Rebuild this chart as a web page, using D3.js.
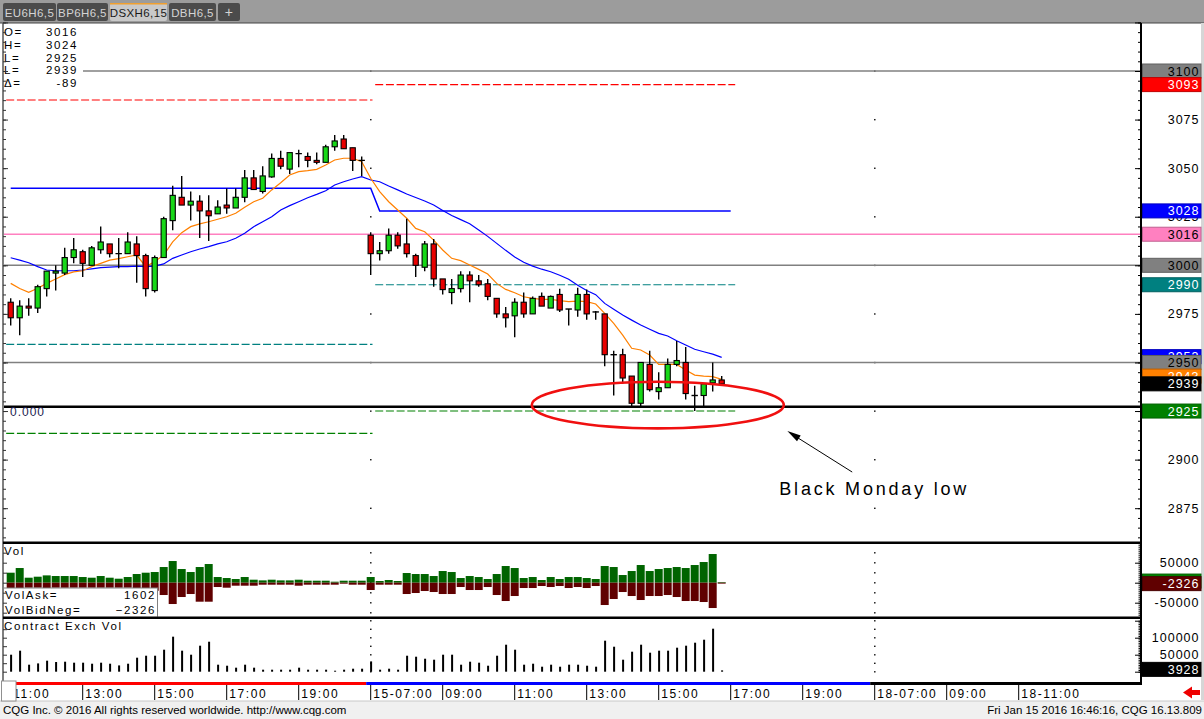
<!DOCTYPE html>
<html>
<head>
<meta charset="utf-8">
<script src="https://cdn.jsdelivr.net/npm/d3@7"></script>
<style>
  body { margin: 0; background: #fff; }
  svg { display: block; font-family: "Liberation Sans", Arial, sans-serif; }
</style>
</head>
<body>
<svg id="chart" width="1204" height="719"></svg>
<script>
// ---- data (bar index = 15 min slot, 0 = 14th 11:00, 40 = 15th 07:00) ----
const opens = [2981,2973,2979,2978,2988,2996,2996,3004,3007,3000,3008,3011,3006,3006,3011,3005,2987,3004,3023,3035,
  3031,3033,3028,3026.5,3031,3029.5,3035,3045,3038,3045.5,3055,3049.5,3057.5,3056,3054,3053,3061,3065,3060.5,3054,
  3015.5,3006,3007.5,3015.5,3011,3005,2999,3011,2993,2986,2988,2995,2992,2990.5,2983,2975,2974,2981,2975,2984,
  2978,2985,2977.5,2977,2985,2976,2975,2954,2954,2943,2929,2949,2935,2937,2949,2950,2933,2933,2939.5,2941];
const highs = [2983,2982,2983,2990,2997,3000,3009,3014,3008,3010,3020,3011,3014,3017,3015,3006,3005,3025,3041,3046,
  3038,3036,3036,3033.5,3039.5,3039.5,3049,3049,3051,3057.5,3059,3058,3059.5,3058,3058,3062,3067,3067,3060.5,3056,
  3017,3012,3019,3017,3024,3006,3012.5,3013.5,2993,2993,2997,2997,2995,2993,2983,2978.5,2983,2986,2984,2986,
  2984.5,2988,2977.5,2988.5,2987.5,2976.5,2975,2956,2957,2943,2950,2956,2945,2952,2961,2958,2938,2939,2950,2943];
const lows = [2969,2964,2974,2975.5,2984,2987,2995,3001,2994,3000,3006,3004,2998.5,3006,2991,2984,2986,3004,3018,3031,
  3023,3014,3012.5,3026.5,3026.5,3029.5,3032.5,3039,3037,3045,3049.5,3047,3050.5,3050.5,3052,3053,3059,3060,3048.5,3046,
  2995,3002.5,3006,3008.5,3004,2994,2997,2989,2985,2980,2986,2981,2989,2982,2973,2968,2963,2973,2975,2979,
  2978,2976,2969,2973.5,2972,2972,2948,2933,2939,2927.5,2927.5,2935,2931,2937,2948,2931,2925,2927.5,2935,2939];
const closes = [2973,2979,2978,2989,2997,2997,3004,3008,3001,3009,3012,3006,3006,3012,3005,2988,3004,3024,3036,3031,
  3033,3028,3025.5,3030,3029.5,3035,3045,3039,3046,3055,3051,3058,3057.5,3054,3053,3061,3064,3060,3054,3054,
  3006,3007.5,3015.5,3010,3006,3000,3011,2993,2987.5,2988,2995,2992,2990,2984,2975,2973,2981,2975,2983,2979,
  2984,2977,2977.5,2985,2975,2976,2954,2954,2942,2929,2950,2936,2937,2949,2951,2934,2933,2939,2941,2939];

const fastAvg = [2990.7,2988.1,2986.1,2988.2,2990.7,2993.0,2995.2,2996.6,2997.2,2999.3,3001.0,3002.7,3003.4,3004.4,3005.3,2999.3,3001.9,3005.3,3012.1,3016.8,
  3019.9,3021.3,3022.4,3023.7,3025.0,3026.8,3029.9,3032.7,3034.5,3038.8,3042.5,3046.5,3048.2,3048.7,3049.4,3051.6,3054.2,3055.1,3055.1,3053.3,
  3044.8,3037.9,3032.7,3028.5,3024.2,3019.0,3017.3,3013.0,3007.9,3003.6,3002.4,3000.2,2997.9,2995.5,2990.7,2987.6,2985.9,2983.8,2983.0,2982.5,
  2982.5,2981.8,2981.3,2981.6,2981.3,2980.1,2975.3,2970.1,2964.1,2957.3,2956.4,2953.8,2949.0,2949.0,2949.0,2946.1,2943.5,2943.0,2942.7,2941.3];
const slowAvg = [3003.9,3002.7,3001.3,2999.3,2997.6,2997.2,2997.2,2997.2,2997.6,2998.2,2998.8,2999.1,2999.3,2999.3,2999.6,2999.3,2999.6,3000.7,3003.6,3005.3,
  3007.0,3008.4,3009.6,3011.0,3012.1,3013.9,3016.5,3019.9,3022.4,3025.0,3028.5,3030.7,3032.7,3034.8,3036.5,3038.4,3041.3,3043.0,3044.4,3045.6,
  3043.9,3043.0,3040.8,3038.8,3036.7,3034.9,3033.1,3031.0,3028.2,3025.6,3023.5,3021.4,3018.2,3014.9,3011.3,3007.7,3004.3,3001.6,2999.6,2998.0,
  2996.7,2994.9,2992.8,2989.7,2987.0,2984.9,2980.4,2977.4,2974.4,2971.8,2969.3,2967.1,2965.0,2963.6,2961.2,2959.0,2956.8,2955.5,2954.3,2952.6];

const volAsk = [25000,36700,12500,15000,18300,16700,16700,16700,14200,12500,16700,12500,10000,14200,21700,25000,26700,39200,54200,34200,
  26700,39200,46700,14200,11700,9200,14200,7500,5800,7500,5800,5800,7500,5000,5000,5000,2500,5000,5000,5000,
  14200,4200,6700,4200,24200,21700,21700,16700,29200,26700,11700,16700,14200,9200,21700,41700,36700,11700,14200,6700,
  14200,9200,14200,14200,11700,9200,41700,39200,19200,29200,44200,29200,34200,36700,39200,36700,44200,51700,71700,1602];
const volBid = [25000,25100,12500,12500,14100,12500,12700,12500,12500,12500,12500,12500,12500,12500,19500,22000,20300,30800,53300,35800,
  28300,47500,47500,10800,12500,7500,7500,7500,5000,5000,5000,5000,7500,5000,5000,5000,5000,2500,5000,5000,
  18300,5000,5000,5000,28300,25800,20800,23300,28300,28300,10800,18300,18300,10800,30800,45800,33300,13300,13300,8300,
  10800,8300,13300,10800,13300,8300,55800,40800,23300,33300,43300,33300,33300,30800,35800,45800,45800,48300,63300,2326];
const exchVol = [50000,61800,20600,24400,32400,28500,29400,26500,26500,23500,26500,23500,18500,23500,41200,47000,47000,64700,103000,61800,
  50000,76500,88200,20600,17600,11800,20600,11800,5900,5900,5900,5900,11800,5900,5900,5900,2900,5900,8800,8800,
  30300,5900,8800,5900,47000,44100,38200,35300,50000,50000,20600,29400,26500,17600,47000,79400,64700,20600,23500,14700,
  20600,14700,20600,20600,17600,14700,91200,73500,35300,58800,79400,55900,61800,61800,70600,76500,85300,94100,126500,3928];

// session lines: day 1 and day 2
const sessionStart = [-0.5, 40.5];
const sessionEnd = [40.2, 80.5];
const sessionHigh = [3085.1, 3093];
const sessionMid = [2959.3, 2990];
const sessionLow = [2913.5, 2925];
const settleSlots = [0, 40, 41, 80];
const settleValues = [3039.7, 3039.7, 3028, 3028];
const separatorSlots = [40, 96];

const fullLines = [3100, 3016, 3000, 2950];
const zeroLine = 2927.2;

const flagValues = [3100, 3093, 3028, 3016, 3000, 2990, 2953, 2950, 2943, 2939, 2925];
const flagFill = ["#808080","#ff0000","#0000ff","#ff80c0","#808080","#008080","#0000ff","#808080","#ff8000","#000000","#008000"];
const flagInk = ["#000","#fff","#fff","#000","#000","#fff","#fff","#000","#fff","#fff","#fff"];
const priceLabels = [3075, 3050, 3025, 2975, 2900, 2875];

const headerKeys = ["O=", "H=", "L=", "L=", "\u0394="];
const headerVals = ["3016", "3024", "2925", "2939", "-89"];

const timeSlots = [0, 8, 16, 24, 32, 40, 48, 56, 64, 72, 80, 88, 96, 104, 112];
const timeLabels = ["11:00","13:00","15:00","17:00","19:00","15-07:00","09:00","11:00","13:00","15:00","17:00","19:00","18-07:00","09:00","18-11:00"];

const tabs = ["EU6H6,5", "BP6H6,5", "DSXH6,15", "DBH6,5", "+"];
const note = { slot: 71.9, price: 2928.1, rSlots: 14, rPrice: 12, fromSlot: 93.5, fromPrice: 2893.6,
               toSlot: 86.3, toPrice: 2914.7, textSlot: 85.4, textPrice: 2881.8, text: "Black Monday low" };

// ---- layout ----
const svg = d3.select("#chart");
const plotL = 3, plotR = 1141;
const mainTop = 23, mainBot = 542.7, volBot = 617.7, exchBot = 683;

const x = d3.scaleLinear().domain([0, 112]).range([10.7, 1018.7]);
const yP = d3.scaleLinear().domain([2875, 3100]).range([508.2, 71]);
const yV = d3.scaleLinear().domain([-50000, 50000]).range([602.7, 562.7]);
const yC = d3.scaleLinear().domain([0, 100000]).range([671.7, 637.7]);
const idx = d3.range(opens.length);

svg.append("rect").attr("width", 1204).attr("height", 719).attr("fill", "#fff");

// tab bar
svg.append("rect").attr("width", 1204).attr("height", mainTop).attr("fill", "#9c9c9c");
const tabX = [3, 57, 110, 169, 218], tabW = [53, 51, 57, 47, 22];
const tabG = svg.append("g");
tabs.forEach((t, i) => {
  const active = i === 2;
  tabG.append("rect").attr("x", tabX[i]).attr("y", 3).attr("width", tabW[i]).attr("height", 18)
    .attr("rx", 2).attr("fill", active ? "#c9c9c9" : "#4b4b4b");
  if (active) tabG.append("rect").attr("x", tabX[i]).attr("y", 3).attr("width", tabW[i]).attr("height", 1.5).attr("fill", "#f0a030");
  tabG.append("text").attr("x", tabX[i] + tabW[i] / 2).attr("y", 16.5).attr("text-anchor", "middle")
    .attr("font-size", i === 4 ? 14 : 11.5).style("letter-spacing", "0.4px")
    .attr("fill", active ? "#1a1a1a" : "#d4d4d4").text(t);
});
svg.append("line").attr("x1", 0).attr("x2", 1204).attr("y1", mainTop).attr("y2", mainTop).attr("stroke", "#444").attr("stroke-width", 1);

// right strip + footer
svg.append("rect").attr("x", 1201).attr("y", mainTop).attr("width", 3).attr("height", 700 - mainTop).attr("fill", "#d6d6d6");
svg.append("rect").attr("x", 0).attr("y", 701).attr("width", 1204).attr("height", 18).attr("fill", "#f0f0f0");
svg.append("line").attr("x1", 0).attr("x2", 1204).attr("y1", 701).attr("y2", 701).attr("stroke", "#c8c8c8");

// ---- main price panel ----
svg.append("clipPath").attr("id", "clipMain").append("rect")
  .attr("x", plotL + 1).attr("y", mainTop + 1).attr("width", plotR - plotL - 1).attr("height", mainBot - mainTop - 2);
const main = svg.append("g").attr("clip-path", "url(#clipMain)");

// separator dots on 25 pt levels
const priceLevels = d3.range(2850, 3126, 25);
separatorSlots.forEach(s => {
  main.selectAll(null).data(priceLevels).join("rect")
    .attr("x", x(s) - 0.6).attr("y", d => yP(d) - 0.6).attr("width", 1.4).attr("height", 1.4).attr("fill", "#000");
});

// full-width reference lines
main.selectAll(".ref").data(fullLines).join("line").attr("class", "ref")
  .attr("x1", plotL).attr("x2", plotR).attr("y1", d => yP(d)).attr("y2", d => yP(d))
  .attr("stroke", d => d === 3016 ? "#ff80c0" : "#808080").attr("stroke-width", 1.5);
main.append("line").attr("x1", plotL).attr("x2", plotR).attr("y1", yP(zeroLine)).attr("y2", yP(zeroLine))
  .attr("stroke", "#000").attr("stroke-width", 2.5);

// session dashed lines
[[sessionHigh, "#ff0000"], [sessionMid, "#008080"], [sessionLow, "#008000"]].forEach(([vals, col]) => {
  main.selectAll(null).data(vals).join("line")
    .attr("x1", (d, i) => x(sessionStart[i])).attr("x2", (d, i) => x(sessionEnd[i]))
    .attr("y1", d => yP(d)).attr("y2", d => yP(d))
    .attr("stroke", col).attr("stroke-width", 1.1).attr("stroke-dasharray", "8,2.7");
});

// settlement step line
main.append("path").datum(settleSlots.map((s, i) => [s, settleValues[i]]))
  .attr("d", d3.line().x(d => x(d[0])).y(d => yP(d[1])))
  .attr("fill", "none").attr("stroke", "#0000ff").attr("stroke-width", 1.5);

// moving averages
const avgLine = d3.line().x((d, i) => x(i)).y(d => yP(d));
main.append("path").datum(slowAvg).attr("d", avgLine).attr("fill", "none").attr("stroke", "#0000ff").attr("stroke-width", 1.2);
main.append("path").datum(fastAvg).attr("d", avgLine).attr("fill", "none").attr("stroke", "#ff8000").attr("stroke-width", 1.2);

// candles
const candles = main.append("g");
candles.selectAll(".wick").data(idx).join("line").attr("class", "wick")
  .attr("x1", i => x(i)).attr("x2", i => x(i)).attr("y1", i => yP(highs[i])).attr("y2", i => yP(lows[i]))
  .attr("stroke", "#000").attr("stroke-width", 1.4);
candles.selectAll(".body").data(idx.filter(i => opens[i] !== closes[i])).join("rect").attr("class", "body")
  .attr("x", i => x(i) - 2.6).attr("width", 5.2)
  .attr("y", i => yP(Math.max(opens[i], closes[i])))
  .attr("height", i => Math.max(1.5, yP(Math.min(opens[i], closes[i])) - yP(Math.max(opens[i], closes[i]))))
  .attr("fill", i => closes[i] > opens[i] ? "#18d818" : "#e80000")
  .attr("stroke", "#000").attr("stroke-width", 1.1);
candles.selectAll(".doji").data(idx.filter(i => opens[i] === closes[i])).join("line").attr("class", "doji")
  .attr("x1", i => x(i) - 3.2).attr("x2", i => x(i) + 3.2).attr("y1", i => yP(opens[i])).attr("y2", i => yP(opens[i]))
  .attr("stroke", "#000").attr("stroke-width", 1.4);

// annotation
main.append("ellipse").attr("cx", x(note.slot)).attr("cy", yP(note.price))
  .attr("rx", x(note.slot + note.rSlots) - x(note.slot)).attr("ry", yP(note.price - note.rPrice) - yP(note.price))
  .attr("fill", "none").attr("stroke", "#f01010").attr("stroke-width", 2.6);
const ax1 = x(note.fromSlot), ay1 = yP(note.fromPrice), ax2 = x(note.toSlot), ay2 = yP(note.toPrice);
main.append("line").attr("x1", ax1).attr("y1", ay1).attr("x2", ax2 + 6).attr("y2", ay2 + 4)
  .attr("stroke", "#000").attr("stroke-width", 1);
const ang = Math.atan2(ay1 - ay2, ax1 - ax2);
const head = [[ax2, ay2],
  [ax2 + 14 * Math.cos(ang - 0.25), ay2 + 14 * Math.sin(ang - 0.25)],
  [ax2 + 14 * Math.cos(ang + 0.25), ay2 + 14 * Math.sin(ang + 0.25)]];
main.append("polygon").attr("points", head.map(p => p.join(",")).join(" ")).attr("fill", "#000");
main.append("text").attr("x", x(note.textSlot)).attr("y", yP(note.textPrice))
  .attr("font-size", 18).style("letter-spacing", "2.8px").attr("fill", "#000").text(note.text);

// zero label
main.append("text").attr("x", 10).attr("y", yP(zeroLine) + 9.5).attr("font-size", 12)
  .style("letter-spacing", "1px").attr("fill", "#1c1c50").text("0.000");

// header readout
main.append("rect").attr("x", plotL + 1).attr("y", mainTop + 1).attr("width", 79).attr("height", 66).attr("fill", "#fff");
const hdr = main.append("g").attr("font-size", 11.5).style("letter-spacing", "1.6px").attr("fill", "#000");
headerKeys.forEach((k, i) => {
  hdr.append("text").attr("x", 4).attr("y", 36 + i * 12.8).text(k);
  hdr.append("text").attr("x", 78).attr("y", 36 + i * 12.8).attr("text-anchor", "end").text(headerVals[i]);
});

// ---- volume panel (ask / bid) ----
svg.append("clipPath").attr("id", "clipVol").append("rect")
  .attr("x", plotL + 1).attr("y", mainBot + 1).attr("width", plotR - plotL - 1).attr("height", volBot - mainBot - 2);
const vol = svg.append("g").attr("clip-path", "url(#clipVol)");
const volLevels = d3.range(-100000, 100001, 25000);
separatorSlots.forEach(s => {
  vol.selectAll(null).data(volLevels).join("rect")
    .attr("x", x(s) - 0.6).attr("y", d => yV(d) - 0.6).attr("width", 1.4).attr("height", 1.4).attr("fill", "#000");
});
vol.selectAll(".ask").data(idx).join("rect").attr("class", "ask")
  .attr("x", i => x(i) - 4).attr("width", 8).attr("y", i => yV(volAsk[i])).attr("height", i => yV(0) - yV(volAsk[i]))
  .attr("fill", "#006400");
vol.selectAll(".bid").data(idx).join("rect").attr("class", "bid")
  .attr("x", i => x(i) - 4).attr("width", 8).attr("y", yV(0)).attr("height", i => yV(-volBid[i]) - yV(0))
  .attr("fill", "#600000");
vol.append("text").attr("x", 4).attr("y", 555).attr("font-size", 11.5).style("letter-spacing", "1.6px").text("Vol");
vol.append("rect").attr("x", plotL + 0.5).attr("y", 588).attr("width", 154).attr("height", 30)
  .attr("fill", "#fff").attr("stroke", "#808080").attr("stroke-width", 1);
const vinfo = vol.append("g").attr("font-size", 11.5).style("letter-spacing", "1.6px").attr("fill", "#000");
vinfo.append("text").attr("x", 5).attr("y", 599).text("VolAsk=");
vinfo.append("text").attr("x", 156).attr("y", 599).attr("text-anchor", "end").text(d3.format("d")(volAsk[79]));
vinfo.append("text").attr("x", 5).attr("y", 613.5).text("VolBidNeg=");
vinfo.append("text").attr("x", 156).attr("y", 613.5).attr("text-anchor", "end").text(d3.format("d")(-volBid[79]));

// ---- exchange volume panel ----
svg.append("clipPath").attr("id", "clipExch").append("rect")
  .attr("x", plotL + 1).attr("y", volBot + 1).attr("width", plotR - plotL - 1).attr("height", exchBot - volBot - 2);
const exch = svg.append("g").attr("clip-path", "url(#clipExch)");
const exchLevels = d3.range(0, 200001, 25000);
separatorSlots.forEach(s => {
  exch.selectAll(null).data(exchLevels).join("rect")
    .attr("x", x(s) - 0.6).attr("y", d => yC(d) - 0.6).attr("width", 1.4).attr("height", 1.4).attr("fill", "#000");
});
exch.selectAll(".ev").data(idx).join("rect").attr("class", "ev")
  .attr("x", i => x(i) - 0.6).attr("width", 2).attr("y", i => yC(exchVol[i])).attr("height", i => yC(0) - yC(exchVol[i]))
  .attr("fill", "#000");
exch.append("text").attr("x", 4).attr("y", 630).attr("font-size", 11.5).style("letter-spacing", "1.6px").text("Contract Exch Vol");

// ---- frame, separators ----
svg.append("line").attr("x1", plotL).attr("x2", plotL).attr("y1", mainTop).attr("y2", 701).attr("stroke", "#555").attr("stroke-width", 1.5);
[mainBot, volBot].forEach(yy => svg.append("line").attr("x1", plotL).attr("x2", plotR).attr("y1", yy).attr("y2", yy)
  .attr("stroke", "#000").attr("stroke-width", 2.5));

// right price axis
const rightAxes = svg.append("g").attr("transform", `translate(${plotR},0)`);
const priceMinor = d3.range(2860, 3126, 5);
const priceMajor = d3.range(2850, 3126, 25);
rightAxes.append("g").call(d3.axisLeft(yP).tickValues(priceMinor).tickSize(3).tickFormat(""));
rightAxes.append("g").call(d3.axisLeft(yP).tickValues(priceMajor.filter(v => v > 2859)).tickSize(6).tickFormat(""));
const volMinor = d3.range(-85000, 100001, 5000).filter(v => yV(v) > mainBot + 1 && yV(v) < volBot - 1);
rightAxes.append("g").call(d3.axisLeft(yV).tickValues(volMinor).tickSize(2.5).tickFormat(""));
rightAxes.append("g").call(d3.axisLeft(yV).tickValues([-50000, 0, 50000]).tickSize(6).tickFormat(""));
const exchMinor = d3.range(0, 150001, 5000).filter(v => yC(v) > volBot + 1);
rightAxes.append("g").call(d3.axisLeft(yC).tickValues(exchMinor).tickSize(2.5).tickFormat(""));
rightAxes.append("g").call(d3.axisLeft(yC).tickValues([0, 50000, 100000, 150000]).tickSize(6).tickFormat(""));
rightAxes.selectAll(".domain").remove();
rightAxes.selectAll(".tick line").attr("stroke", "#000").attr("stroke-width", 1);

// left edge ticks
const leftAxes = svg.append("g").attr("transform", `translate(${plotL},0)`);
leftAxes.append("g").call(d3.axisRight(yP).tickValues(priceMinor).tickSize(3).tickFormat(""));
leftAxes.append("g").call(d3.axisRight(yP).tickValues(priceMajor.filter(v => v > 2859)).tickSize(5).tickFormat(""));
leftAxes.append("g").call(d3.axisRight(yV).tickValues(volLevels.filter(v => yV(v) > mainBot + 3 && yV(v) < volBot - 3)).tickSize(4).tickFormat(""));
leftAxes.append("g").call(d3.axisRight(yC).tickValues(exchLevels.filter(v => yC(v) > volBot + 3)).tickSize(4).tickFormat(""));
leftAxes.selectAll(".domain").remove();
leftAxes.selectAll(".tick line").attr("stroke", "#333").attr("stroke-width", 1);

svg.append("line").attr("x1", plotR).attr("x2", plotR).attr("y1", mainTop).attr("y2", 685).attr("stroke", "#000").attr("stroke-width", 2);

// price labels (levels that carry a flag are covered by it)
const labelG = svg.append("g").attr("font-size", 12.5).style("letter-spacing", "1px");
labelG.selectAll(".pl").data(priceLabels).join("text").attr("class", "pl")
  .attr("x", 1199.5).attr("y", d => yP(d) + 4.5).attr("text-anchor", "end").attr("fill", "#000").text(d => d);
labelG.selectAll(".vl").data([50000, -50000]).join("text").attr("class", "vl")
  .attr("x", 1199.5).attr("y", d => yV(d) + 4.5).attr("text-anchor", "end").text(d => d);
labelG.selectAll(".cl").data([100000, 50000]).join("text").attr("class", "cl")
  .attr("x", 1199.5).attr("y", d => yC(d) + 4.5).attr("text-anchor", "end").text(d => d);

// value flags
function flag(yy, fill, ink, txt) {
  labelG.append("rect").attr("x", 1142.5).attr("y", yy - 7).attr("width", 58.5).attr("height", 14)
    .attr("fill", fill).attr("stroke", d3.color(fill).darker(0.8)).attr("stroke-width", 1);
  if (txt !== null) labelG.append("text").attr("x", 1199.5).attr("y", yy + 4.5).attr("text-anchor", "end").attr("fill", ink).text(txt);
}
flagValues.forEach((v, i) => flag(yP(v), flagFill[i], flagInk[i], v));
flag(yV(volAsk[79]) - 1, "#008000", "#fff", null);
flag(yV(-volBid[79]) , "#600000", "#fff", -volBid[79]);
flag(yC(exchVol[79]) - 1, "#000000", "#fff", exchVol[79]);

// ---- time axis ----
const sessionBand = [[-2, 39.5, "#ff0000"], [39.5, 95.5, "#0000ff"], [95.5, 126, "#000000"]];
sessionBand.forEach(([a, b, c]) => svg.append("rect").attr("x", Math.max(plotL, x(a))).attr("y", 682)
  .attr("width", Math.min(plotR, x(b)) - Math.max(plotL, x(a))).attr("height", 3).attr("fill", c));
const tAxis = svg.append("g");
tAxis.selectAll("line").data(timeSlots).join("line")
  .attr("x1", d => x(d)).attr("x2", d => x(d)).attr("y1", 685).attr("y2", 700).attr("stroke", "#000").attr("stroke-width", 1);
tAxis.selectAll("text").data(timeSlots).join("text")
  .attr("x", d => x(d) + 2.5).attr("y", 697.5).attr("font-size", 12).style("letter-spacing", "1.6px")
  .attr("fill", "#000").text((d, i) => timeLabels[i]);
svg.append("rect").attr("x", 1.5).attr("y", 681).attr("width", 14.5).attr("height", 20)
  .attr("fill", "#fff").attr("stroke", "#909090").attr("stroke-width", 1);

// red scroll arrow
svg.append("polygon").attr("points", "1183,692.5 1192,686.5 1192,690 1200,690 1200,695 1192,695 1192,698.5").attr("fill", "#ee0000");

// footer text
svg.append("text").attr("x", 3).attr("y", 714).attr("font-size", 11.5).attr("fill", "#000")
  .text("CQG Inc. \u00a9 2016 All rights reserved worldwide. http://www.cqg.com");
svg.append("text").attr("x", 1202).attr("y", 714).attr("font-size", 11.5).attr("text-anchor", "end").attr("fill", "#000")
  .text("Fri Jan 15 2016 16:46:16, CQG 16.13.809");
</script>
</body>
</html>
